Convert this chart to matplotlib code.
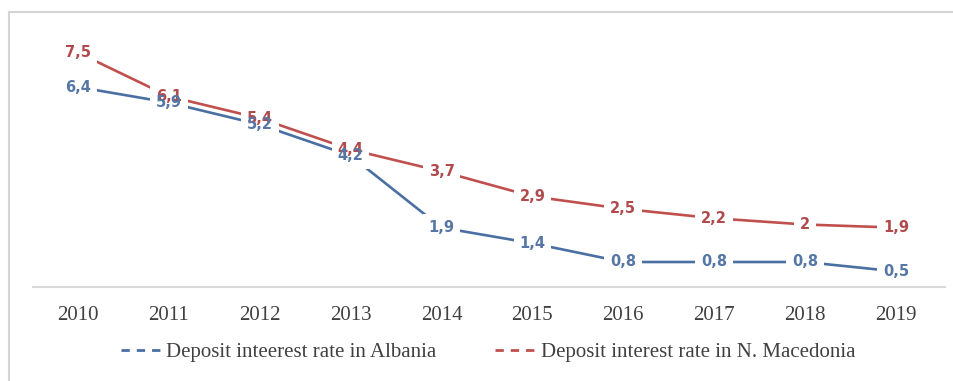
import matplotlib
matplotlib.use("Agg")
import matplotlib.pyplot as plt
from matplotlib.lines import Line2D

years = ["2010", "2011", "2012", "2013", "2014", "2015", "2016", "2017", "2018", "2019"]
albania = [6.4, 5.9, 5.2, 4.2, 1.9, 1.4, 0.8, 0.8, 0.8, 0.5]
macedonia = [7.5, 6.1, 5.4, 4.4, 3.7, 2.9, 2.5, 2.2, 2.0, 1.9]

blue = "#4a6fa3"
red = "#c0504d"
blue_txt = "#5677a6"
red_txt = "#b04a4c"

W, H = 954, 381
fig = plt.figure(figsize=(W / 100, H / 100), dpi=100)
fig.patch.set_facecolor("white")

# outer chart frame (top and left edges)
fig.add_artist(Line2D([9 / W, 1], [1 - 12 / H, 1 - 12 / H], color="#d4d4d4", lw=1.5))
fig.add_artist(Line2D([9 / W, 9 / W], [0, 1 - 12 / H], color="#d4d4d4", lw=1.5))

ax = fig.add_axes([33 / W, 1 - 287 / H, (945 - 33) / W, (287 - 37) / H])
x = list(range(len(years)))

ax.plot(x, albania, color=blue, lw=1.9, solid_capstyle="butt", zorder=2,
        label="Deposit inteerest rate in Albania")
ax.plot(x, macedonia, color=red, lw=1.9, solid_capstyle="butt", zorder=2,
        label="Deposit interest rate in N. Macedonia")


def fmt(v):
    return ("%g" % v).replace(".", ",")


# data labels: white boxes hide the line under each label, text drawn on top
for series in (macedonia, albania):
    for xi, v in zip(x, series):
        ax.text(xi, v, fmt(v), ha="center", va="center", fontsize=10.5,
                fontweight="bold", color="none", family="DejaVu Sans",
                bbox=dict(boxstyle="square,pad=0.4", fc="white", ec="none"),
                zorder=3)
for series, tc in ((macedonia, red_txt), (albania, blue_txt)):
    for xi, v in zip(x, series):
        ax.text(xi, v, fmt(v), ha="center", va="center", fontsize=10.5,
                fontweight="bold", color=tc, family="DejaVu Sans", zorder=4)

ax.set_xlim(-0.495, 9.54)
ax.set_ylim(0, 8)
ax.set_xticks(x)
ax.set_xticklabels(years, family="Liberation Serif", fontsize=15, color="#404040")
ax.tick_params(axis="x", length=0, pad=14)
ax.set_yticks([])
for s in ("top", "right", "left"):
    ax.spines[s].set_visible(False)
ax.spines["bottom"].set_color("#d9d9d9")
ax.spines["bottom"].set_linewidth(1.5)
ax.patch.set_alpha(0)

handles = [
    Line2D([], [], color=blue, lw=2.0, linestyle=(0, (3, 2.5))),
    Line2D([], [], color=red, lw=2.0, linestyle=(0, (3, 2.5))),
]
labels = ["Deposit inteerest rate in Albania", "Deposit interest rate in N. Macedonia"]
fig.legend(handles, labels, loc="center", bbox_to_anchor=(488 / W, 1 - 352 / H),
           ncol=2, frameon=False, handlelength=2.0, handletextpad=0.2,
           columnspacing=2.8, prop={"family": "Liberation Serif", "size": 15},
           labelcolor="#404040")

fig.savefig("out.png", dpi=100, facecolor="white")
